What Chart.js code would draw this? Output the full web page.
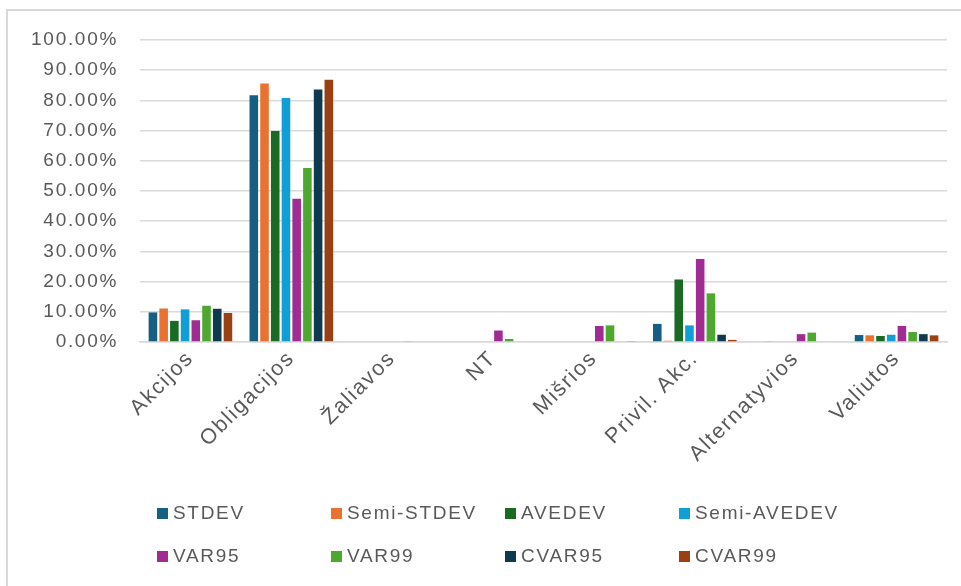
<!DOCTYPE html>
<html>
<head>
<meta charset="utf-8">
<script src="https://cdn.jsdelivr.net/npm/chart.js@4/dist/chart.umd.min.js"></script>
<style>
  html, body { margin: 0; padding: 0; background: #ffffff; }
  #wrap { position: relative; width: 961px; height: 586px; overflow: hidden; }
  #frame { position: absolute; left: 6px; top: 9px; right: -4px; bottom: -4px;
           border-top: 2px solid #d9d9d9; border-left: 2px solid #d9d9d9; }
  canvas { position: absolute; left: 0; top: 0; }
  #legend { position: absolute; left: 0; top: 0; width: 961px; height: 586px; pointer-events: none;
            font-family: 'Liberation Sans', Arial, sans-serif; font-size: 19px; letter-spacing: 1.7px; color: #595959; }
  .item { position: absolute; display: flex; align-items: center; white-space: nowrap; }
  .box { width: 11px; height: 11px; margin-right: 5px; }
</style>
</head>
<body>
<div id="wrap">
  <div id="frame"></div>
  <canvas id="chart" width="961" height="586"></canvas>
  <div id="legend"></div>
</div>
<script>
// Asset classes on the x axis
const categories = ['Akcijos', 'Obligacijos', 'Žaliavos', 'NT', 'Mišrios', 'Privil. Akc.', 'Alternatyvios', 'Valiutos'];

// Portfolio weights (%) per risk measure
const stdev      = [9.8, 81.7, 0,   0,   0,   6.0,  0,   2.3];
const semiStdev  = [11.1, 85.6, 0,  0,   0,   0.4,  0.2, 2.2];
const avedev     = [7.0, 69.9, 0,   0,   0,   20.7, 0,   2.0];
const semiAvedev = [10.8, 80.8, 0,  0,   0,   5.5,  0,   2.4];
const var95      = [7.2, 47.4, 0,   3.8, 5.3, 27.5, 2.6, 5.3];
const var99      = [12.0, 57.6, 0.2, 1.0, 5.5, 16.1, 3.1, 3.3];
const cvar95     = [11.0, 83.6, 0,  0,   0,   2.4,  0,   2.6];
const cvar99     = [9.6, 86.8, 0,   0,   0.2, 0.7,  0,   2.2];

const seriesNames = ['STDEV', 'Semi-STDEV', 'AVEDEV', 'Semi-AVEDEV', 'VAR95', 'VAR99', 'CVAR95', 'CVAR99'];
const seriesData = [stdev, semiStdev, avedev, semiAvedev, var95, var99, cvar95, cvar99];
const seriesColors = ['#156082', '#e97132', '#196b24', '#0f9ed5', '#a02b93', '#4ea72e', '#0e3a50', '#9a4012'];

// Y axis tick values (percent)
const yTicks = [0, 10, 20, 30, 40, 50, 60, 70, 80, 90, 100];

const FONT = "'Liberation Sans', Arial, sans-serif";
const TEXT = '#595959';
const GRID = '#d9d9d9';

const spacing = {
  id: 'spacing',
  beforeDraw(chart) { chart.ctx.letterSpacing = '1.7px'; }
};

const chart = new Chart(document.getElementById('chart'), {
  type: 'bar',
  data: {
    labels: categories,
    datasets: seriesNames.map((name, i) => ({
      label: name,
      data: seriesData[i],
      backgroundColor: seriesColors[i],
      borderWidth: 0,
      categoryPercentage: 0.85,
      barPercentage: 0.8
    }))
  },
  options: {
    responsive: false,
    animation: false,
    layout: { padding: { top: 40, left: 0, right: 14, bottom: 0 } },
    plugins: { legend: { display: false }, tooltip: { enabled: false } },
    scales: {
      x: {
        grid: { display: false, drawTicks: false },
        border: { display: true, color: GRID, width: 1.5 },
        ticks: {
          color: TEXT, font: { family: FONT, size: 21.5 },
          minRotation: 45, maxRotation: 45, autoSkip: false, padding: 4
        },
        afterFit(axis) { axis.height = 244; }
      },
      y: {
        min: 0, max: 100,
        afterBuildTicks(axis) { axis.ticks = yTicks.map(v => ({ value: v })); },
        grid: { color: GRID, lineWidth: 1.5, drawTicks: false },
        border: { display: false },
        ticks: {
          color: TEXT, font: { family: FONT, size: 19 }, padding: 22,
          callback: v => v.toFixed(2) + '%'
        },
        afterFit(axis) { axis.width = 140; }
      }
    }
  },
  plugins: [spacing]
});

// Legend laid out in a 4-column grid, built from the chart's datasets
const legend = document.getElementById('legend');
const colX = [157, 331, 505, 679];
const rowY = [513, 556];
chart.data.datasets.forEach((ds, i) => {
  const item = document.createElement('div');
  item.className = 'item';
  item.style.left = colX[i % 4] + 'px';
  item.style.top = (rowY[Math.floor(i / 4)] - 11) + 'px';
  const box = document.createElement('span');
  box.className = 'box';
  box.style.background = ds.backgroundColor;
  const txt = document.createElement('span');
  txt.textContent = ds.label;
  item.appendChild(box);
  item.appendChild(txt);
  legend.appendChild(item);
});
</script>
</body>
</html>
